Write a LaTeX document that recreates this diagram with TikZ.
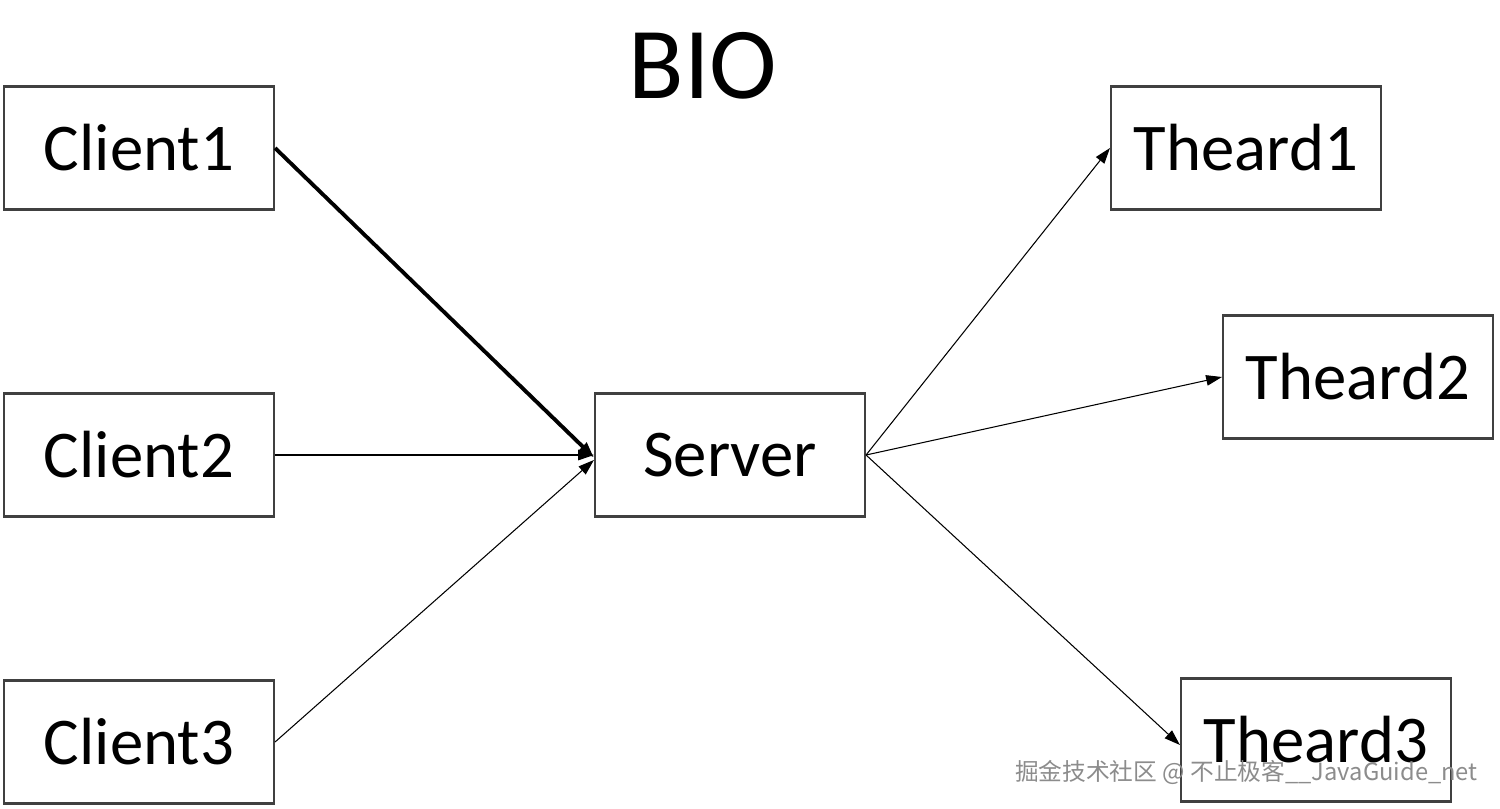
\documentclass[tikz,border=0pt]{standalone}
\usepackage{fontspec}
\setmainfont{Carlito}
\newfontfamily\cjk{Noto Sans CJK SC}
\usetikzlibrary{arrows.meta}
\begin{document}
\begin{tikzpicture}[x=0.02cm,y=-0.02cm,
  box/.style={draw=black!75,line width=1.2pt,minimum width=270*0.02cm,minimum height=123*0.02cm,inner sep=0pt,font=\fontsize{38}{42}\selectfont},
  con/.style={line width=0.6pt,-{Triangle[length=9pt,width=6pt]}}]
\useasboundingbox (0,0) rectangle (1500,808);
\node[font=\fontsize{58}{60}\selectfont] (t) at (703,66) {BIO};
\node[box] (c1) at (139,148) {Client1};
\node[box] (c2) at (139,455) {Client2};
\node[box] (c3) at (139,742) {Client3};
\node[box] (s) at (730,455) {Server};
\node[box] (t1) at (1246,148) {Theard1};
\node[box] (t2) at (1358,377) {Theard2};
\node[box] (t3) at (1316,740) {Theard3};
\draw[con,line width=2.2pt] (c1.east) -- ([yshift=-0.05cm]s.west);
\draw[con] (c2.east) -- (s.west);
\draw[con] (c3.east) -- ([yshift=-0.1cm]s.west);
\draw[con] (s.east) -- (t1.west);
\draw[con] (s.east) -- (t2.west);
\draw[con] (s.east) -- ([yshift=-0.1cm]t3.west);
\node[font=\cjk\fontsize{13.5}{16}\selectfont,text=black!45,anchor=east,inner sep=0pt] (wm) at (1478,772) {掘金技术社区 @ 不止极客\_\_JavaGuide\_net};
\end{tikzpicture}
\end{document}
